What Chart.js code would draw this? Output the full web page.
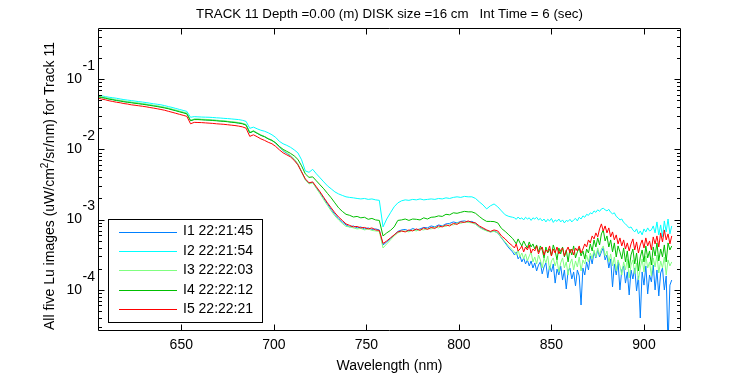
<!DOCTYPE html>
<html>
<head>
<meta charset="utf-8">
<script src="https://cdn.jsdelivr.net/npm/chart.js@4.4.0/dist/chart.umd.min.js"></script>
<style>
  html, body { margin: 0; padding: 0; background: #fff; }
  #wrap { width: 750px; height: 375px; position: relative; }
</style>
</head>
<body>
<div id="wrap"><canvas id="chart"></canvas></div>
<script>
// Lu spectra, track 11
const wavelengths = [
  605, 607, 609, 611, 613, 615, 617, 619, 621, 623, 625, 627, 629, 631, 633, 635, 637, 639, 641, 643,
  645, 647, 649, 651, 653, 655, 657, 659, 661, 663, 665, 667, 669, 671, 673, 675, 677, 679, 681, 683,
  685, 687, 689, 691, 693, 695, 697, 699, 701, 703, 705, 707, 709, 711, 713, 715, 717, 719, 721, 723,
  725, 727, 729, 731, 733, 735, 737, 739, 741, 743, 745, 747, 749, 751, 753, 755, 757, 759, 761, 763,
  765, 767, 769, 771, 773, 775, 777, 779, 781, 783, 785, 787, 789, 791, 793, 795, 797, 799, 801, 803,
  805, 807, 809, 811, 813, 815, 817, 819, 821, 823, 825, 827, 829,
  830, 831, 832, 833, 834, 835, 836, 837, 838, 839, 840, 841, 842, 843, 844, 845, 846, 847, 848, 849,
  850, 851, 852, 853, 854, 855, 856, 857, 858, 859, 860, 861, 862, 863, 864, 865, 866, 867, 868, 869,
  870, 871, 872, 873, 874, 875, 876, 877, 878, 879, 880, 881, 882, 883, 884, 885, 886, 887, 888, 889,
  890, 891, 892, 893, 894, 895, 896, 897, 898, 899, 900, 901, 902, 903, 904, 905, 906, 907, 908, 909,
  910, 911, 912, 913, 914, 915
]

// I1 22:21:45
const lu1 = [
  .0567, .0552, .0540, .0524, .0514, .0500, .0492, .0481, .0473, .0466,
  .0458, .0451, .0443, .0436, .0428, .0419, .0411, .0402, .0393, .0382,
  .0370, .0358, .0347, .0335, .0325, .0256, .0268, .0268, .0266, .0264,
  .0262, .0260, .0257, .0255, .0252, .0249, .0246, .0242, .0238, .0233,
  .0224, .0172, .0182, .0170, .0159, .0152, .0141, .0134, .0122, .0108,
  .00952, .00877, .00808, .00720, .00612, .00478, .00374, .00328, .00339, .00283,
  .00240, .00200, .00167, .00140, .00119, .00104, .000927, .000840, .000787, .000813,
  .000762, .000787, .000737, .000762, .000725, .000737, .000713, .000436, .000481, .000540,
  .000606, .000679, .000713, .000725, .000690, .000749, .000713, .000737, .000774, .000762,
  .000813, .000787, .000840, .000813, .000869, .000883, .000927, .000898, .000943, .000958,
  .000927, .000943, .000883, .000787, .000737, .000702, .000668, .000690, .000647, .000549,
  .000466, .000395, .000347,
  .000314, .000347, .000276, .000304, .000250, .000285, .000234, .000267, .000219, .000258,
  .000205, .000242, .000186, .000226, .000250, .000169, .000212, .000242, .000148, .000219,
  .000180, .000234, .000125, .000198, .000163, .000219, .000138, .000192, .000103, .000186,
  .000205, .000143, .000180, .000114, .000192, .000158, .0000609, .000205, .000163, .000250,
  .000192, .000304, .000234, .000347, .000285, .000370, .000294, .000347, .000395, .000267,
  .000314, .000205, .000276, .000110, .000234, .000163, .000250, .0000998, .000192, .000219,
  .000125, .000180, .0000846, .000192, .000143, .000205, .0000964, .000158, .0000398, .000180,
  .000117, .000219, .0000874, .000163, .000130, .000226, .0000998, .000192, .0000819, .000174,
  .000205, .0000998, .000158, .0000164, .000117, .000138
]

// I2 22:21:54
const lu2 = [
  .0588, .0578, .0563, .0551, .0542, .0533, .0521, .0510, .0502, .0494,
  .0486, .0478, .0471, .0463, .0454, .0445, .0438, .0430, .0419, .0406,
  .0395, .0382, .0370, .0358, .0347, .0286, .0292, .0290, .0288, .0287,
  .0286, .0284, .0281, .0279, .0276, .0274, .0271, .0268, .0265, .0259,
  .0250, .0199, .0207, .0196, .0187, .0181, .0172, .0161, .0148, .0130,
  .0120, .0114, .0107, .00984, .00892, .00709, .00494, .00471, .00519, .00448,
  .00393, .00344, .00302, .00274, .00248, .00232, .00221, .00211, .00207, .00204,
  .00200, .00197, .00200, .00194, .00197, .00191, .00188, .000787, .00102, .00125,
  .00152, .00173, .00185, .00191, .00188, .00194, .00191, .00197, .00191, .00194,
  .00197, .00194, .00200, .00197, .00204, .00200, .00207, .00211, .00207, .00214,
  .00211, .00211, .00200, .00179, .00162, .00142, .00157, .00167, .00152, .00133,
  .00117, .00111, .00108,
  .00106, .00101, .00109, .00102, .00106, .000990, .00108, .00102, .00106, .000974,
  .00106, .00102, .00108, .000990, .00104, .000958, .00102, .000927, .00101, .000958,
  .00104, .000912, .000990, .000943, .00102, .000927, .000990, .000898, .000974, .000943,
  .00101, .000927, .000990, .00104, .000958, .00108, .00102, .00113, .00108, .00119,
  .00115, .00125, .00121, .00133, .00127, .00138, .00131, .00142, .00145, .00138,
  .00133, .00140, .00127, .00121, .00125, .00111, .00106, .000990, .00102, .000912,
  .000869, .000813, .000762, .000787, .000713, .000668, .000737, .000626, .000690, .000606,
  .000737, .000668, .000762, .000690, .000713, .000813, .000647, .000927, .000606, .000840,
  .000567, .000958, .000668, .00102, .000626, .000813
]

// I3 22:22:03
const lu3 = [
  .0574, .0560, .0547, .0531, .0521, .0507, .0499, .0488, .0480, .0472,
  .0464, .0457, .0449, .0442, .0433, .0425, .0417, .0407, .0398, .0388,
  .0375, .0363, .0351, .0340, .0329, .0259, .0270, .0270, .0268, .0267,
  .0265, .0262, .0260, .0257, .0255, .0251, .0248, .0245, .0241, .0235,
  .0226, .0175, .0184, .0172, .0161, .0152, .0142, .0134, .0123, .0108,
  .00968, .00892, .00821, .00732, .00622, .00478, .00368, .00322, .00334, .00278,
  .00232, .00191, .00159, .00133, .00113, .000990, .000883, .000800, .000787, .000762,
  .000737, .000749, .000713, .000737, .000702, .000690, .000679, .000395, .000451, .000514,
  .000586, .000647, .000679, .000690, .000668, .000713, .000690, .000725, .000713, .000749,
  .000737, .000787, .000762, .000813, .000800, .000855, .000840, .000898, .000883, .000927,
  .000912, .000898, .000855, .000774, .000725, .000690, .000668, .000679, .000647, .000549,
  .000481, .000415, .000370,
  .000347, .000314, .000370, .000294, .000335, .000276, .000325, .000258, .000304, .000347,
  .000250, .000294, .000234, .000314, .000267, .000205, .000285, .000242, .000304, .000192,
  .000258, .000285, .000219, .000267, .000180, .000242, .000285, .000205, .000250, .000163,
  .000234, .000276, .000192, .000258, .000212, .000294, .000186, .000267, .000234, .000314,
  .000250, .000335, .000276, .000370, .000294, .000395, .000314, .000382, .000422, .000304,
  .000358, .000250, .000325, .000219, .000294, .000186, .000267, .000219, .000163, .000250,
  .000192, .000276, .000148, .000226, .000267, .000169, .000242, .000138, .000205, .000276,
  .000180, .000304, .000205, .000250, .000158, .000285, .000212, .000314, .000174, .000258,
  .000205, .000294, .000163, .000267, .000219, .000250
]

// I4 22:22:12
const lu4 = [
  .0560, .0545, .0533, .0518, .0507, .0494, .0486, .0475, .0467, .0460,
  .0452, .0445, .0438, .0430, .0422, .0414, .0406, .0397, .0388, .0378,
  .0365, .0354, .0342, .0331, .0320, .0255, .0265, .0265, .0263, .0261,
  .0260, .0257, .0255, .0252, .0250, .0247, .0243, .0240, .0236, .0231,
  .0221, .0172, .0181, .0169, .0158, .0151, .0141, .0134, .0124, .0110,
  .0100, .00937, .00877, .00808, .00720, .00582, .00448, .00399, .00406, .00356,
  .00312, .00274, .00236, .00204, .00173, .00147, .00131, .00119, .00115, .00109,
  .00111, .00106, .00108, .00101, .00104, .000990, .000974, .000586, .000647, .000702,
  .000787, .000974, .000990, .00102, .000974, .00102, .00101, .000990, .00106, .00102,
  .00108, .00109, .00113, .00111, .00119, .00117, .00125, .00123, .00127, .00131,
  .00129, .00129, .00123, .00111, .00101, .000943, .000943, .000937, .000898, .000749,
  .000679, .000606, .000540,
  .000497, .000451, .000531, .000466, .000422, .000497, .000436, .000395, .000481, .000408,
  .000451, .000382, .000436, .000347, .000422, .000370, .000285, .000408, .000335, .000382,
  .000304, .000436, .000358, .000267, .000395, .000325, .000408, .000294, .000370, .000250,
  .000382, .000314, .000422, .000285, .000347, .000395, .000304, .000358, .000276, .000382,
  .000335, .000451, .000358, .000514, .000408, .000549, .000436, .000626, .000713, .000497,
  .000586, .000408, .000514, .000347, .000466, .000294, .000422, .000347, .000276, .000395,
  .000250, .000358, .000205, .000314, .000382, .000234, .000335, .000186, .000294, .000370,
  .000250, .000422, .000285, .000358, .000226, .000408, .000304, .000466, .000258, .000382,
  .000294, .000436, .000250, .000466, .000370, .000422
]

// I5 22:22:21
const lu5 = [
  .0537, .0519, .0507, .0491, .0480, .0468, .0460, .0448, .0441, .0430,
  .0424, .0417, .0410, .0403, .0394, .0386, .0378, .0369, .0360, .0348,
  .0337, .0326, .0315, .0305, .0295, .0231, .0242, .0241, .0240, .0238,
  .0236, .0234, .0231, .0229, .0227, .0224, .0221, .0218, .0214, .0209,
  .0200, .0153, .0161, .0151, .0141, .0134, .0126, .0120, .0110, .00984,
  .00892, .00835, .00782, .00697, .00602, .00478, .00380, .00334, .00344, .00292,
  .00248, .00207, .00173, .00147, .00125, .00109, .000974, .000869, .000827, .000787,
  .000800, .000762, .000774, .000737, .000762, .000713, .000702, .000458, .000497, .000549,
  .000606, .000668, .000690, .000668, .000713, .000690, .000737, .000702, .000762, .000725,
  .000774, .000749, .000813, .000787, .000840, .000813, .000883, .000855, .000927, .000912,
  .000958, .000912, .000898, .000813, .000762, .000713, .000679, .000713, .000690, .000586,
  .000531, .000466, .000422,
  .000395, .000451, .000358, .000382, .000422, .000347, .000408, .000370, .000436, .000335,
  .000382, .000358, .000422, .000325, .000382, .000408, .000314, .000370, .000347, .000422,
  .000304, .000382, .000335, .000408, .000325, .000370, .000395, .000304, .000358, .000408,
  .000335, .000382, .000314, .000395, .000358, .000422, .000335, .000382, .000451, .000408,
  .000514, .000466, .000586, .000531, .000647, .000567, .000737, .000869, .000690, .000813,
  .000647, .000762, .000567, .000668, .000514, .000606, .000451, .000549, .000422, .000514,
  .000382, .000466, .000358, .000451, .000531, .000370, .000481, .000335, .000436, .000514,
  .000395, .000549, .000422, .000497, .000370, .000567, .000451, .000586, .000408, .000647,
  .000481, .000713, .000514, .000626, .000451, .000586
]

const seriesValues = [lu1, lu2, lu3, lu4, lu5]
const seriesNames = ['I1 22:21:45', 'I2 22:21:54', 'I3 22:22:03', 'I4 22:22:12', 'I5 22:22:21']
const seriesColors = ['#0080ff', '#00ffff', '#80ff80', '#00bf00', '#ff0000']

const xTicks = [650, 700, 750, 800, 850, 900]
const yDecades = [-5, -4, -3, -2, -1]
const yMultipliers = [1, 2, 3, 4, 5, 6, 7, 8, 9]

const X_MIN = 605, X_MAX = 920
const Y_MIN = 2.6e-5, Y_MAX = 0.533

const TITLE = 'TRACK 11 Depth =0.00 (m) DISK size =16 cm   Int Time = 6 (sec)'
const FONT = '"Liberation Sans", Arial, Helvetica, sans-serif'

// MATLAB-looking frame: box, inward ticks, 10^n labels, titles and legend
const matlabFrame = {
  id: 'matlabFrame',
  afterDraw(chart) {
    const { ctx, chartArea: a } = chart
    const xs = chart.scales.x
    const ys = chart.scales.y
    const L = Math.round(a.left) + 0.5
    const R = Math.round(a.right) - 0.5
    const T = Math.round(a.top) + 0.5
    const B = Math.round(a.bottom) - 0.5
    const cx = (a.left + a.right) / 2

    ctx.save()
    ctx.strokeStyle = '#000'
    ctx.lineWidth = 1
    ctx.beginPath()
    ctx.rect(L, T, R - L, B - T)
    xs.ticks.forEach(t => {
      const px = Math.round(xs.getPixelForValue(t.value)) + 0.5
      ctx.moveTo(px, B); ctx.lineTo(px, B - 6)
      ctx.moveTo(px, T); ctx.lineTo(px, T + 6)
    })
    ys.ticks.forEach(t => {
      const py = Math.round(ys.getPixelForValue(t.value)) + 0.5
      const len = t.major ? 6 : 3.5
      ctx.moveTo(L, py); ctx.lineTo(L + len, py)
      ctx.moveTo(R, py); ctx.lineTo(R - len, py)
    })
    ctx.stroke()

    ctx.fillStyle = '#000'
    ctx.textBaseline = 'middle'

    // x tick labels
    ctx.font = `14px ${FONT}`
    ctx.textAlign = 'center'
    xs.ticks.forEach(t => {
      ctx.fillText(String(t.value), xs.getPixelForValue(t.value), 345)
    })

    // y tick labels as 10 with exponent
    yDecades.forEach(e => {
      const v = Math.pow(10, e)
      if (v < Y_MIN || v > Y_MAX) return
      const py = ys.getPixelForValue(v)
      ctx.textAlign = 'right'
      ctx.fillText('10', 82, py)
      ctx.textAlign = 'left'
      ctx.fillText(String(e), 82.5, py - 13)
    })

    // titles
    ctx.textAlign = 'center'
    ctx.font = `13.3px ${FONT}`
    ctx.fillText(TITLE, cx, 14.5)
    ctx.font = `14px ${FONT}`
    ctx.fillText('Wavelength (nm)', cx, 366)

    // y label with superscript 2
    const p1 = 'All five Lu images (uW/cm'
    const p2 = '2'
    const p3 = '/sr/nm) for Track 11'
    ctx.save()
    ctx.translate(50, 186)
    ctx.rotate(-Math.PI / 2)
    ctx.font = `14px ${FONT}`
    const w1 = ctx.measureText(p1).width
    const w3 = ctx.measureText(p3).width
    ctx.font = `10px ${FONT}`
    const w2 = ctx.measureText(p2).width
    let tx = -(w1 + w2 + w3) / 2
    ctx.textAlign = 'left'
    ctx.font = `14px ${FONT}`
    ctx.fillText(p1, tx, 0)
    tx += w1
    ctx.font = `10px ${FONT}`
    ctx.fillText(p2, tx, -5)
    tx += w2
    ctx.font = `14px ${FONT}`
    ctx.fillText(p3, tx, 0)
    ctx.restore()

    // legend box
    ctx.fillStyle = '#fff'
    ctx.fillRect(108.5, 219.5, 154, 103)
    ctx.strokeStyle = '#000'
    ctx.strokeRect(108.5, 219.5, 154, 103)
    ctx.font = `14px ${FONT}`
    ctx.textAlign = 'left'
    seriesNames.forEach((name, i) => {
      const ry = 231.5 + i * 19.4
      ctx.strokeStyle = seriesColors[i]
      ctx.beginPath()
      ctx.moveTo(119, Math.round(ry) + 0.5)
      ctx.lineTo(177, Math.round(ry) + 0.5)
      ctx.stroke()
      ctx.fillStyle = '#000'
      ctx.fillText(name, 183, ry)
    })
    ctx.restore()
  }
}

const datasets = seriesValues.map((vals, i) => ({
  label: seriesNames[i],
  data: vals.map((v, j) => ({ x: wavelengths[j], y: v })),
  borderColor: seriesColors[i],
  backgroundColor: seriesColors[i],
  borderWidth: 1,
  pointRadius: 0,
  tension: 0,
  fill: false,
  order: seriesValues.length - i
}))

const canvas = document.getElementById('chart')
new Chart(canvas.getContext('2d'), {
  type: 'line',
  data: { datasets },
  options: {
    responsive: true,
    maintainAspectRatio: false,
    devicePixelRatio: 1,
    animation: false,
    events: [],
    layout: { padding: { top: 28, right: 69, left: 0, bottom: 0 } },
    plugins: {
      legend: { display: false },
      title: { display: false },
      tooltip: { enabled: false }
    },
    scales: {
      x: {
        type: 'linear',
        min: X_MIN,
        max: X_MAX,
        grid: { display: false },
        border: { display: false },
        ticks: { display: false },
        afterBuildTicks: scale => {
          scale.ticks = xTicks.map(v => ({ value: v }))
        },
        afterFit: scale => { scale.height = 44 }
      },
      y: {
        type: 'logarithmic',
        min: Y_MIN,
        max: Y_MAX,
        grid: { display: false },
        border: { display: false },
        ticks: { display: false },
        afterBuildTicks: scale => {
          const ticks = []
          yDecades.forEach(e => {
            yMultipliers.forEach(k => {
              const v = k * Math.pow(10, e)
              if (v >= Y_MIN && v <= Y_MAX) ticks.push({ value: v, major: k === 1 })
            })
          })
          scale.ticks = ticks
        },
        afterFit: scale => { scale.width = 98 }
      }
    }
  },
  plugins: [matlabFrame]
})
</script>
</body>
</html>
